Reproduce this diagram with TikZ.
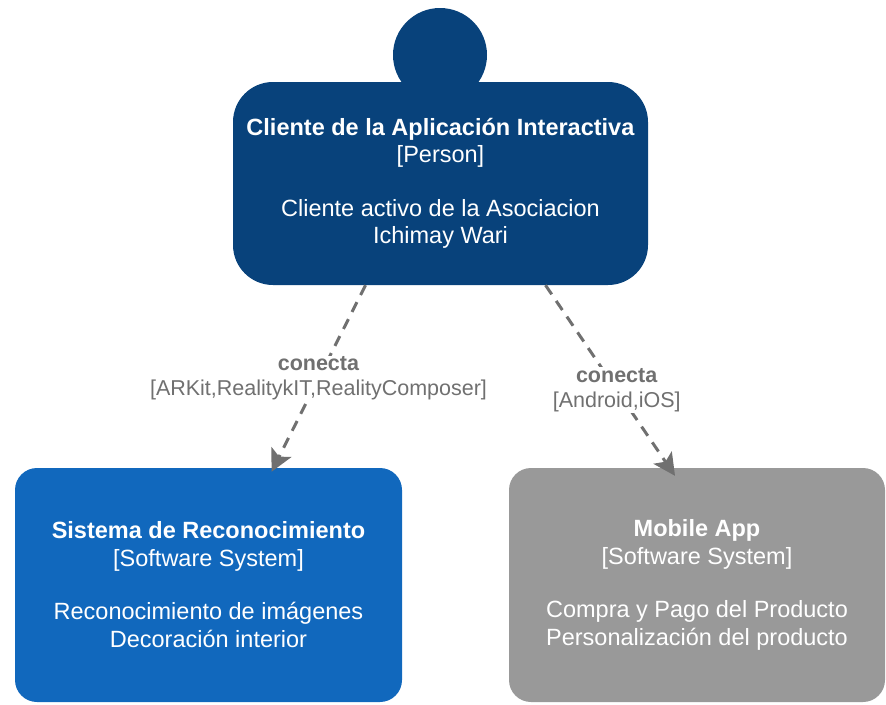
\documentclass[tikz,border=0pt]{standalone}
\usepackage{fontspec}
\setmainfont{Liberation Sans}
\usetikzlibrary{arrows.meta, positioning}

\definecolor{personblue}{HTML}{08427B}
\definecolor{systemblue}{HTML}{1168BD}
\definecolor{extgray}{HTML}{999999}
\definecolor{relgray}{HTML}{707070}

\begin{document}
\begin{tikzpicture}[
    x=1pt, y=-1pt,
    person/.style={rectangle, rounded corners=40pt, minimum width=415pt, minimum height=203pt, fill=personblue, text=white, align=center, font=\fontsize{23.5}{27}\selectfont},
    head/.style={circle, minimum size=94pt, fill=personblue},
    system/.style={rectangle, rounded corners=22pt, minimum width=387pt, minimum height=234pt, fill=systemblue, text=white, align=center, font=\fontsize{23.5}{28}\selectfont},
    external/.style={system, minimum width=376pt, fill=extgray},
    rel/.style={-{Stealth[length=22pt, width=22pt, inset=5pt]}, line width=3pt, relgray, dash pattern=on 11pt off 8pt},
    rellabel/.style={fill=white, text=relgray, align=center, font=\fontsize{21.5}{25}\selectfont, inner sep=1pt}
]
\useasboundingbox (0,0) rectangle (886,704);

\node (head) [head] at (440,55) {};
\node (client) [person] at (440.5,183.5) {\textbf{Cliente de la Aplicación Interactiva}\\\relax [Person]\\[27pt]Cliente activo de la Asociacion\\Ichimay Wari};

\node (recog) [system] at (208.5,585) {\textbf{Sistema de Reconocimiento}\\\relax [Software System]\\[25pt]Reconocimiento de imágenes\\Decoración interior};
\node (mobile) [external] at (697,585) {\textbf{Mobile App}\\\relax [Software System]\\[25pt]Compra y Pago del Producto\\Personalización del producto};

\draw [rel] ([xshift=-75pt]client.south) -- node[rellabel, pos=0.5] {\textbf{conecta}\\\relax [ARKit,RealitykIT,RealityComposer]} ([xshift=63pt, yshift=-4pt]recog.north);
\draw [rel] ([xshift=105pt]client.south) -- node[rellabel, pos=0.55] {\textbf{conecta}\\\relax [Android,iOS]} ([xshift=-22pt, yshift=-8pt]mobile.north);

\end{tikzpicture}
\end{document}
